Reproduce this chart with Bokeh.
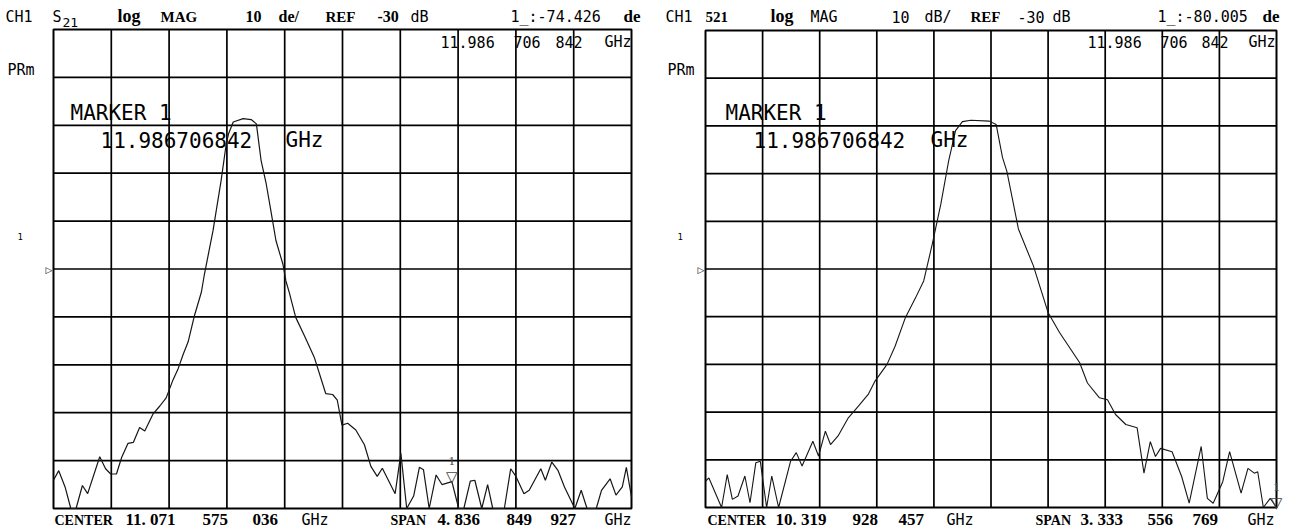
from bokeh.plotting import figure
from bokeh.layouts import row
from bokeh.models import Range1d, Label
from bokeh.embed import file_html
from bokeh.resources import INLINE

# ------------------------------------------------------------------ data
left_center_ghz = 11.071575036
left_span_ghz = 4.836849927
right_center_ghz = 10.319928457
right_span_ghz = 3.333556769
marker_ghz = 11.986706842
left_marker_db = -74.426
right_marker_db = -80.005
ref_db = -30
db_per_div = 10

left_freq = [8.653, 8.697, 8.750, 8.798, 8.842, 8.895, 8.939, 9.040, 9.089, 9.132,
             9.180, 9.224, 9.277, 9.321, 9.374, 9.417, 9.485, 9.543, 9.596, 9.654,
             9.698, 9.737, 9.780, 9.833, 9.891, 9.916, 9.988, 10.056, 10.099, 10.119,
             10.157, 10.240, 10.307, 10.351, 10.390, 10.433, 10.472, 10.515, 10.573, 10.598,
             10.627, 10.680, 10.752, 10.835, 10.931, 10.989, 11.028, 11.067, 11.115, 11.183,
             11.255, 11.309, 11.362, 11.405, 11.512, 11.560, 11.609, 11.667, 11.715, 11.749,
             11.797, 11.855, 11.904, 11.987, 12.044, 12.087, 12.141, 12.179, 12.237, 12.286,
             12.329, 12.426, 12.479, 12.523, 12.590, 12.634, 12.731, 12.769, 12.823, 12.876,
             12.929, 13.016, 13.069, 13.118, 13.195, 13.239, 13.311, 13.360, 13.413, 13.447,
             13.490]
left_db = [-74.1, -72.1, -75.5, -80.0, -80.0, -75.2, -76.9, -69.2, -71.7, -72.8,
           -72.8, -69.3, -66.4, -66.2, -63.1, -63.8, -60.3, -58.6, -56.9, -53.1,
           -50.7, -47.9, -45.2, -39.7, -34.8, -31.1, -22.0, -11.5, -3.8, -1.7,
           0.7, 1.4, 1.2, 0.3, -7.3, -12.2, -17.8, -24.1, -29.0, -32.5,
           -35.0, -40.1, -43.9, -48.4, -56.0, -56.2, -57.4, -62.6, -62.2, -63.6,
           -66.7, -71.2, -73.3, -71.6, -76.9, -68.5, -80.0, -77.4, -71.4, -71.9,
           -80.0, -73.0, -75.0, -74.4, -80.0, -80.0, -74.3, -74.1, -80.0, -75.0,
           -80.0, -80.0, -71.7, -73.3, -76.9, -76.2, -71.7, -74.1, -70.3, -72.1,
           -75.5, -80.0, -76.2, -80.0, -80.0, -76.2, -73.8, -77.2, -75.5, -71.4,
           -77.6]

right_freq = [8.653, 8.673, 8.747, 8.780, 8.810, 8.843, 8.883, 8.913, 8.947, 8.973,
              9.010, 9.040, 9.080, 9.150, 9.183, 9.217, 9.280, 9.313, 9.353, 9.383,
              9.427, 9.487, 9.547, 9.603, 9.643, 9.713, 9.760, 9.820, 9.880, 9.927,
              9.977, 10.027, 10.073, 10.113, 10.153, 10.203, 10.310, 10.350, 10.387, 10.413,
              10.480, 10.567, 10.653, 10.720, 10.837, 10.883, 10.953, 11.000, 11.047, 11.107,
              11.173, 11.213, 11.250, 11.280, 11.310, 11.377, 11.433, 11.477, 11.547, 11.583,
              11.617, 11.673, 11.713, 11.780, 11.820, 11.857, 11.877, 11.910, 11.950, 11.987]
right_db = [-74.5, -73.8, -80.0, -73.1, -78.3, -77.6, -73.4, -79.0, -70.6, -70.3,
            -80.0, -73.4, -80.0, -70.3, -68.5, -71.3, -66.1, -69.2, -64.0, -66.8,
            -65.0, -61.2, -58.7, -56.3, -53.5, -50.0, -46.2, -40.2, -36.0, -32.5,
            -24.8, -16.4, -7.3, -1.0, 0.9, 1.2, 1.0, 0.3, -6.6, -9.6,
            -21.6, -29.3, -39.1, -43.3, -49.6, -53.9, -57.0, -57.4, -60.5, -62.6,
            -63.3, -72.8, -66.2, -69.3, -67.6, -68.3, -73.5, -79.1, -67.2, -78.1,
            -79.1, -74.6, -68.3, -77.0, -71.8, -72.8, -72.5, -80.0, -78.1, -80.0]

left_header = [("CH1", 5, "m", 15), ("S", 52, "m", 15), ("log", 117, "b", 18), ("MAG", 160, "b", 15),
               ("10", 245, "b", 16), ("de/", 278, "b", 16), ("REF", 325, "b", 15), ("-30", 377, "b", 16),
               ("dB", 410, "m", 15), ("1_:-74.426", 510, "m", 15), ("de", 623, "b", 17)]
right_header = [("CH1", 665, "m", 15), ("521", 705, "b", 15), ("log", 770, "b", 18), ("MAG", 810, "m", 15),
                ("10", 891, "m", 15), ("dB/", 924, "m", 15), ("REF", 970, "b", 15), ("-30", 1017, "m", 15),
                ("dB", 1052, "m", 15), ("1_:-80.005", 1157, "m", 15), ("de", 1262, "b", 17)]
left_footer = [("CENTER", 54, "b", 14), ("11. 071", 125, "b", 17), ("575", 202, "b", 17), ("036", 252, "b", 17),
               ("GHz", 301, "m", 15), ("SPAN", 390, "b", 14), ("4. 836", 437, "b", 17), ("849", 506, "b", 17),
               ("927", 550, "b", 17), ("GHz", 604, "m", 15)]
right_footer = [("CENTER", 707, "b", 14), ("10. 319", 775, "b", 17), ("928", 852, "b", 17), ("457", 898, "b", 17),
                ("GHz", 946, "m", 15), ("SPAN", 1035, "b", 14), ("3. 333", 1080, "b", 17), ("556", 1147, "b", 17),
                ("769", 1192, "b", 17), ("GHz", 1247, "m", 15)]
readout_words = ["11.986", "706", "842", "GHz"]
left_readout_x = [440, 513, 555, 604]
right_readout_x = [1087, 1160, 1201, 1248]

H = 529
MONO = "DejaVu Sans Mono"
SERIF = "Liberation Serif"
BASE_SHIFT = 0.42   # svg text sits ~0.42 em below the requested alphabetic baseline


def make_panel(width, page_x, gl, gw, gt, gh, center, span):
    """Frame fills the whole canvas; the 10x10 graticule occupies [gl, gl+gw] x [gt, gt+gh] px."""
    f0 = center - span / 2
    f1 = center + span / 2
    bot = ref_db - 5 * db_per_div
    top = ref_db + 5 * db_per_div
    dx = span / gw
    dy = (top - bot) / gh
    p = figure(width=width, height=H,
               x_range=Range1d(f0 - gl * dx, f1 + (width - gl - gw) * dx),
               y_range=Range1d(bot - (H - gt - gh) * dy, top + gt * dy),
               x_axis_type=None, y_axis_type=None, output_backend="svg", toolbar_location=None,
               min_border=0, min_border_left=0, min_border_right=0, min_border_top=0, min_border_bottom=0)
    p.outline_line_color = None
    p.background_fill_color = "white"
    p.border_fill_color = "white"
    xt = [f0 + i * span / 10 for i in range(1, 10)]
    yt = [bot + i * db_per_div for i in range(1, 10)]
    p.segment(x0=xt, y0=[bot] * 9, x1=xt, y1=[top] * 9, line_color="black", line_width=1.7)
    p.segment(x0=[f0] * 9, y0=yt, x1=[f1] * 9, y1=yt, line_color="black", line_width=1.7)
    p.quad(left=[f0], right=[f1], bottom=[bot], top=[top], fill_color=None,
           line_color="black", line_width=2)
    p.tags = [page_x]
    return p


def lab(p, x_img, y_img, text, font, size, bold=False, baseline="alphabetic", align="left"):
    y = H - y_img
    if baseline == "alphabetic":
        y += BASE_SHIFT * size
    p.add_layout(Label(x=x_img - p.tags[0], y=y, x_units="screen", y_units="screen", text=text,
                       text_font=font, text_font_size=f"{size}px",
                       text_font_style="bold" if bold else "normal",
                       text_align=align, text_baseline=baseline, text_color="black"))


def decorate(p, header, footer, readout_x, mx, tri_x, mtext_x, dig_x, ghz_x):
    for t, x, k, s in header:
        lab(p, x, 23, t, SERIF if k == "b" else MONO, s, bold=(k == "b"))
    for t, x, k, s in footer:
        lab(p, x, 526, t, SERIF if k == "b" else MONO, s, bold=(k == "b"))
    for t, x in zip(readout_words, readout_x):
        lab(p, x, 48, t, MONO, 15)
    lab(p, mx, 76, "PRm", MONO, 15)
    lab(p, mx + 10, 240, "1", MONO, 9)
    lab(p, tri_x, 269, "\u25b7", "DejaVu Sans", 9, baseline="middle")
    lab(p, mtext_x, 121, "MARKER 1", MONO, 21)
    lab(p, dig_x, 148, "11.986706842", MONO, 21)
    lab(p, ghz_x, 148, "GHz", MONO, 21)


def marker(p, db):
    p.add_layout(Label(x=marker_ghz, y=db, text="\u25bd", text_font="DejaVu Sans",
                       text_font_size="15px", text_align="center", text_baseline="alphabetic", y_offset=5))
    p.add_layout(Label(x=marker_ghz, y=db, text="1", text_font=SERIF,
                       text_font_size="13px", text_align="center", text_baseline="alphabetic", y_offset=21))


p1 = make_panel(646, 0, 53, 578, 29, 479, left_center_ghz, left_span_ghz)
p1.line(left_freq, left_db, line_color="#161616", line_width=1.2)
decorate(p1, left_header, left_footer, left_readout_x, 7, 45, 70, 100, 285)
lab(p1, 62, 27, "21", MONO, 13)
marker(p1, left_marker_db)

p2 = make_panel(645, 646, 59, 571, 30, 477, right_center_ghz, right_span_ghz)
p2.line(right_freq, right_db, line_color="#161616", line_width=1.1)
decorate(p2, right_header, right_footer, right_readout_x, 667, 697, 725, 753, 930)
marker(p2, right_marker_db)

layout = row(p1, p2, styles={"position": "absolute", "left": "0px", "top": "0px"})
open("out.html", "w").write(file_html(layout, INLINE))
